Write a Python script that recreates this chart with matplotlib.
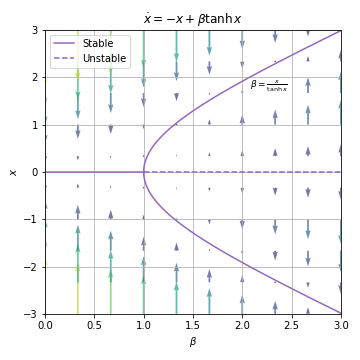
import numpy as np
import matplotlib.pyplot as plt

# grid of the direction field
betas = np.linspace(0, 3, 10)
xs = np.linspace(-3, 3, 10)

# branch points of the bifurcation curve
x_branch = np.linspace(-3, 3, 201)
x_branch = x_branch[x_branch != 0]

B, X = np.meshgrid(betas, xs)
U = np.zeros_like(B)
V = -X + B*np.tanh(X)
M = np.hypot(U, V)

fig = plt.figure(figsize=(5, 5), dpi=72)
ax = fig.add_axes([0.125, 0.128, 0.822, 0.789])

ax.quiver(B, X, U, V, M, cmap='viridis', alpha=0.7)

ax.plot(x_branch/np.tanh(x_branch), x_branch, color='tab:purple', label='Stable')
ax.plot([0, 1], [0, 0], color='tab:purple')
ax.plot([1, 3], [0, 0], '--', color='tab:purple', label='Unstable')

ax.text(2.08, 1.77, r'$\beta = \frac{x}{\tanh x}$', fontsize=9,
        bbox=dict(facecolor='white', edgecolor='none', pad=1))

ax.set_xlim(0, 3)
ax.set_ylim(-3, 3)
ax.set_xlabel(r'$\beta$')
ax.set_ylabel(r'$x$')
ax.set_title(r'$\dot{x} = -x + \beta \tanh x$')
ax.grid(True)
ax.legend(loc='upper left')

fig.savefig('out.png', dpi=72)
